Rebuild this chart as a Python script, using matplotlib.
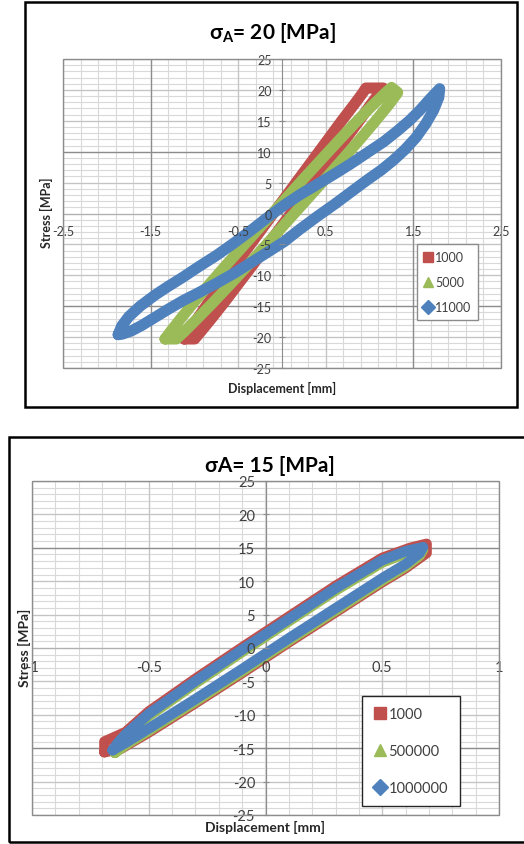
import matplotlib
matplotlib.use('Agg')
import matplotlib.pyplot as plt
from matplotlib.patches import Rectangle
from matplotlib.lines import Line2D
import numpy as np

plt.rcParams['font.family'] = ['Lato', 'DejaVu Sans']
plt.rcParams['axes.unicode_minus'] = False
plt.rcParams['mathtext.fontset'] = 'custom'
plt.rcParams['mathtext.rm'] = 'Lato:bold'

# ---- data: sigma_A = 20 MPa (top) ----
top_labels = ['1000', '5000', '11000']
top_x_1000 = [-1.117, -1.06, -0.965, -0.845, -0.694, -0.532, -0.36, -0.178, 0.004, 0.186, 0.369,
              0.525, 0.681, 0.816, 0.921, 0.957, 1.157,
              1.111, 1.006, 0.881, 0.725, 0.569, 0.386, 0.204, 0.022, -0.16, -0.332, -0.504,
              -0.665, -0.805, -0.92, -0.997, -1.117]
top_y_1000 = [-20.3, -19, -17, -14.5, -11.5, -8.3, -5, -1.5, 2, 5.5, 9,
              12, 15, 17.5, 19.5, 20.3, 20.3,
              19.5, 17.5, 15, 12, 9, 5.5, 2, -1.5, -5, -8.3, -11.5,
              -14.5, -17, -19, -20.3, -20.3]
top_x_5000 = [-1.335, -1.267, -1.156, -1.013, -0.833, -0.635, -0.426, -0.205, 0.017, 0.238, 0.465,
              0.66, 0.859, 1.033, 1.179, 1.25, 1.32,
              1.319, 1.213, 1.069, 0.89, 0.705, 0.488, 0.267, 0.045, -0.176, -0.385, -0.593,
              -0.793, -0.966, -1.107, -1.205, -1.335]
top_y_5000 = [-20.3, -19, -17, -14.5, -11.5, -8.3, -5, -1.5, 2, 5.5, 9,
              12, 15, 17.5, 19.5, 20.4, 19.6,
              19.5, 17.5, 15, 12, 9, 5.5, 2, -1.5, -5, -8.3, -11.5,
              -14.5, -17, -19, -20.3, -20.3]
top_x_11000 = [-1.87, -1.83, -1.75, -1.62, -1.45, -1.30, -1.13, -0.95, -0.75, -0.55, -0.37, -0.18,
               0.02, 0.20, 0.40, 0.60, 0.78, 0.97, 1.16, 1.32, 1.46, 1.58, 1.68, 1.76, 1.80,
               1.79, 1.73, 1.64, 1.53, 1.40, 1.27, 1.13, 0.97, 0.78, 0.60, 0.40, 0.20, 0.02,
               -0.18, -0.37, -0.55, -0.75, -0.95, -1.13, -1.30, -1.45, -1.60, -1.72, -1.82, -1.87]
top_y_11000 = [-19.6, -18.2, -16.7, -15.0, -13.2, -11.8, -10.3, -8.6, -6.8, -4.8, -2.9, -0.8,
               1.3, 3.0, 4.7, 6.4, 8.0, 9.8, 11.6, 13.4, 15.1, 16.8, 18.4, 19.6, 20.2,
               18.8, 16.7, 14.5, 12.3, 10.3, 8.6, 7.0, 5.4, 3.4, 1.5, -0.5, -2.6, -4.6,
               -6.4, -8.1, -9.7, -11.3, -12.8, -14.1, -15.5, -16.8, -18.1, -19.0, -19.5, -19.6]

# ---- data: sigma_A = 15 MPa (bottom) ----
bot_labels = ['1000', '500000', '1000000']
bot_x_1000 = [-0.69, -0.69, -0.6, -0.5, -0.3, -0.1, 0.1, 0.3, 0.5, 0.62, 0.69, 0.69,
              0.6, 0.5, 0.3, 0.1, -0.1, -0.3, -0.5, -0.62, -0.69]
bot_y_1000 = [-15.6, -14.0, -12.6, -9.5, -4.6, 0.1, 4.7, 9.3, 13.5, 15.0, 15.6, 14.2,
              11.95, 9.85, 5.35, 0.85, -3.75, -8.25, -12.65, -15.1, -15.6]
bot_x_500000 = [-0.645, -0.62, -0.6, -0.5, -0.3, -0.1, 0.1, 0.3, 0.5, 0.6, 0.675,
                0.66, 0.6, 0.5, 0.3, 0.1, -0.1, -0.3, -0.5, -0.6, -0.645]
bot_y_500000 = [-15.7, -14.5, -13.3, -10.2, -5.3, -0.6, 4.0, 8.6, 12.8, 14.15, 14.7,
                13.8, 12.2, 10.1, 5.6, 1.1, -3.5, -8.0, -12.4, -14.55, -15.7]
bot_x_1000000 = [-0.655, -0.63, -0.6, -0.5, -0.3, -0.1, 0.1, 0.3, 0.5, 0.6, 0.675,
                 0.66, 0.6, 0.5, 0.3, 0.1, -0.1, -0.3, -0.5, -0.6, -0.655]
bot_y_1000000 = [-15.3, -14.1, -12.95, -9.85, -4.95, -0.25, 4.35, 8.95, 13.15, 14.5, 15.1,
                 14.2, 12.55, 10.45, 5.95, 1.45, -3.15, -7.65, -12.05, -14.2, -15.3]

colors = ['#C0504D', '#9BBB59', '#4F81BD']
markers = ['s', '^', 'D']

W, H = 524, 845
fig = plt.figure(figsize=(W / 100, H / 100), dpi=100)
fig.patch.set_facecolor('white')


def box(x0, y0, x1, y1):
    # pixel coords (top-left origin) -> figure fraction
    return [x0 / W, 1 - y1 / H, (x1 - x0) / W, (y1 - y0) / H]


def setup(ax, xlim, xticks, xminor, dark_x, dark_y, xpad, fs):
    ax.set_xlim(xlim)
    ax.set_ylim(-25, 25)
    ax.set_xticks(xticks)
    ax.set_xticklabels(['%g' % v for v in xticks])
    ax.set_yticks(range(-25, 30, 5))
    # grid drawn by hand so it stays under the loops while tick labels sit on top
    for v in np.arange(xlim[0], xlim[1] + 1e-9, xminor):
        ax.axvline(v, color='#d9d9d9', lw=0.8, zorder=0.3)
    for v in range(-25, 26):
        ax.axhline(v, color='#d9d9d9', lw=0.8, zorder=0.3)
    for v in xticks:
        ax.axvline(v, color='#c4c4c4', lw=0.9, zorder=0.4)
    for v in range(-25, 30, 5):
        ax.axhline(v, color='#c4c4c4', lw=0.9, zorder=0.4)
    for v in dark_x:
        ax.axvline(v, color='#8c8c8c', lw=0.9, zorder=0.5)
    for v in dark_y:
        ax.axhline(v, color='#8c8c8c', lw=0.9, zorder=0.5)
    ax.set_axisbelow(False)
    for s in ['top', 'right']:
        ax.spines[s].set_visible(False)
    ax.spines['left'].set_position(('data', 0))
    ax.spines['bottom'].set_position(('data', 0))
    ax.spines['left'].set_color('#8c8c8c')
    ax.spines['bottom'].set_color('#b0b0b0')
    ax.spines['left'].set_zorder(0.6)
    ax.spines['bottom'].set_zorder(0.6)
    ax.add_patch(Rectangle((0, 0), 1, 1, transform=ax.transAxes, fill=False,
                           ec='#8c8c8c', lw=1.0, zorder=5, clip_on=False))
    ax.tick_params(axis='y', which='major', direction='inout', length=5,
                   color='#8c8c8c', labelsize=fs, labelcolor='#404040', pad=5)
    ax.tick_params(axis='x', which='major', direction='inout', length=0,
                   labelsize=fs, labelcolor='#404040', pad=xpad)


# ---------- top panel ----------
fig.add_artist(Rectangle((25 / W, 1 - 408 / H), 492 / W, 405 / H, transform=fig.transFigure,
                         fill=False, ec='black', lw=1.8))
ax1 = fig.add_axes(box(63, 60, 501, 369))
setup(ax1, (-2.5, 2.5), [-2.5, -1.5, -0.5, 0.5, 1.5, 2.5], 0.2, [-1.5, 1.5], [10, -15], 8, 9)
top_series = [(top_x_1000, top_y_1000), (top_x_5000, top_y_5000), (top_x_11000, top_y_11000)]
for (xs, ys), c in zip(top_series, colors):
    ax1.plot(xs, ys, color=c, lw=8, solid_joinstyle='round', solid_capstyle='round', zorder=2)

h1 = [Line2D([], [], color=c, marker=m, ls='none', markersize=7) for c, m in zip(colors, markers)]
leg1 = ax1.legend(h1, top_labels, loc='center', bbox_to_anchor=(447.5 / W, 1 - 283 / H),
                  bbox_transform=fig.transFigure, fontsize=9, frameon=True, fancybox=False,
                  edgecolor='#8c8c8c', framealpha=1, labelspacing=1.05, handlelength=0.7,
                  handletextpad=0.2, borderpad=0.55, borderaxespad=0)
leg1.get_frame().set_linewidth(1.0)
for t in leg1.get_texts():
    t.set_color('#404040')

fig.text(272 / W, 1 - 33 / H, r'σ$_\mathrm{A}$= 20 [MPa]', ha='center', va='center',
         fontsize=15, fontweight='bold')
fig.text(46 / W, 1 - 213 / H, 'Stress [MPa]', ha='center', va='center', rotation=90,
         fontsize=9, fontweight='bold', color='#262626')
fig.text(282 / W, 1 - 388 / H, 'Displacement [mm]', ha='center', va='center',
         fontsize=9, fontweight='bold', color='#262626')

# ---------- bottom panel ----------
fig.add_artist(Rectangle((9 / W, 1 - 843 / H), 520 / W, 405 / H, transform=fig.transFigure,
                         fill=False, ec='black', lw=1.8))
ax2 = fig.add_axes(box(32, 482, 499, 816))
setup(ax2, (-1, 1), [-1, -0.5, 0, 0.5, 1], 0.1, [], [15, -15], 9, 10.5)
bot_series = [(bot_x_1000, bot_y_1000), (bot_x_500000, bot_y_500000), (bot_x_1000000, bot_y_1000000)]
for (xs, ys), c in zip(bot_series, colors):
    ax2.plot(xs, ys, color=c, lw=7.5, solid_joinstyle='round', solid_capstyle='round', zorder=2)

h2 = [Line2D([], [], color=c, marker=m, ls='none', markersize=8) for c, m in zip(colors, markers)]
leg2 = ax2.legend(h2, bot_labels, loc='center', bbox_to_anchor=(411 / W, 1 - 752 / H),
                  bbox_transform=fig.transFigure, fontsize=10.5, frameon=True, fancybox=False,
                  edgecolor='#262626', framealpha=1, labelspacing=1.55, handlelength=0.8,
                  handletextpad=0.2, borderpad=0.8, borderaxespad=0)
leg2.get_frame().set_linewidth(1.0)
for t in leg2.get_texts():
    t.set_color('#404040')

fig.text(270 / W, 1 - 466 / H, 'σA= 15 [MPa]', ha='center', va='center',
         fontsize=15, fontweight='bold')
fig.text(24 / W, 1 - 648 / H, 'Stress [MPa]', ha='center', va='center', rotation=90,
         fontsize=10, fontweight='bold', color='#262626')
fig.text(265 / W, 1 - 827 / H, 'Displacement [mm]', ha='center', va='center',
         fontsize=10, fontweight='bold', color='#262626')

fig.savefig('out.png', dpi=100)
